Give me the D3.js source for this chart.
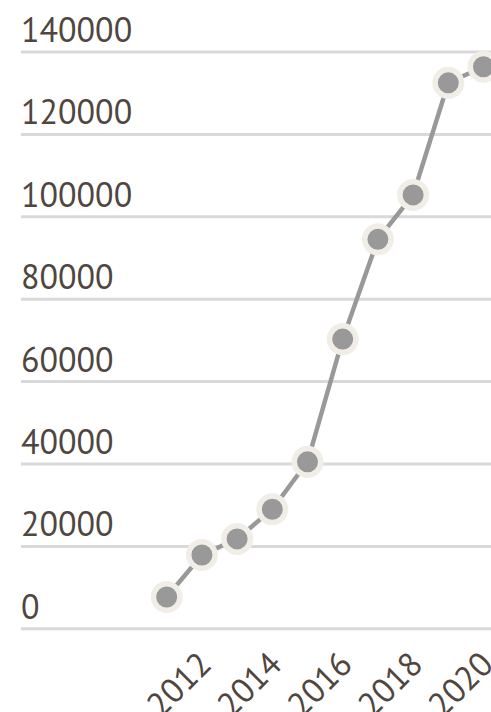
<!DOCTYPE html>
<html>
<head>
<meta charset="utf-8">
<script src="https://cdn.jsdelivr.net/npm/d3@7"></script>
<style>
  html, body { margin: 0; padding: 0; background: #ffffff; overflow: hidden; }
  svg { display: block; }
  text { font-family: "PT Sans", "Open Sans", sans-serif; fill: #4f4640; }
</style>
</head>
<body>
<div id="chart"></div>
<script>
var years = [2011, 2012, 2013, 2014, 2015, 2016, 2017, 2018, 2019, 2020];
var values = [7600, 17800, 21700, 28900, 40400, 70200, 94400, 105200, 132400, 136300];
var yTicks = [0, 20000, 40000, 60000, 80000, 100000, 120000, 140000];
var xTicks = [2012, 2014, 2016, 2018, 2020];

var create_chart = function(id){
    var width = 491, height = 712;
    var margin = {left: 21, top: 51.5, bottom: 83.7};

    var svg = d3.select("#" + id).append("svg")
        .attr("width", width)
        .attr("height", height);

    var x = d3.scaleLinear()
        .domain([2011, 2020])
        .range([166.7, 483.5]);

    var y = d3.scaleLinear()
        .domain([0, 140000])
        .range([height - margin.bottom, margin.top]);

    // gridlines + y labels sitting above each line
    var yAxis = d3.axisRight(y)
        .tickValues(yTicks)
        .tickSize(width - margin.left)
        .tickFormat(d3.format("d"));

    var gy = svg.append("g")
        .attr("transform", "translate(" + margin.left + ",0)")
        .call(yAxis);
    gy.select(".domain").remove();
    gy.selectAll(".tick line")
        .attr("stroke", "#d9d9d9")
        .attr("stroke-width", 3);
    gy.selectAll(".tick text")
        .attr("x", 0)
        .attr("dy", -10)
        .attr("text-anchor", "start")
        .style("font-size", "34px")
        .attr("fill", "#4f4640");

    // x labels, rotated
    var xAxis = d3.axisBottom(x)
        .tickValues(xTicks)
        .tickSize(0)
        .tickFormat(d3.format("d"));

    var gx = svg.append("g")
        .attr("transform", "translate(0," + y(0) + ")")
        .call(xAxis);
    gx.select(".domain").remove();
    gx.selectAll(".tick text")
        .attr("x", 0)
        .attr("y", 0)
        .attr("dy", 0)
        .attr("text-anchor", "end")
        .attr("transform", "translate(11,38) rotate(-45)")
        .style("font-size", "34px")
        .attr("fill", "#4f4640");

    var data = years.map(function(d, i){ return {year: d, value: values[i]}; });

    var line = d3.line()
        .x(function(d){ return x(d.year); })
        .y(function(d){ return y(d.value); });

    svg.append("path")
        .datum(data)
        .attr("d", line)
        .attr("fill", "none")
        .attr("stroke", "#999999")
        .attr("stroke-width", 4.5);

    svg.selectAll("circle.pt")
        .data(data)
        .enter()
        .append("circle")
        .attr("class", "pt")
        .attr("cx", function(d){ return x(d.year); })
        .attr("cy", function(d){ return y(d.value); })
        .attr("r", 13.25)
        .attr("fill", "#999999")
        .attr("stroke", "#f0eee7")
        .attr("stroke-width", 5.5);
};

create_chart("chart");
</script>
</body>
</html>
